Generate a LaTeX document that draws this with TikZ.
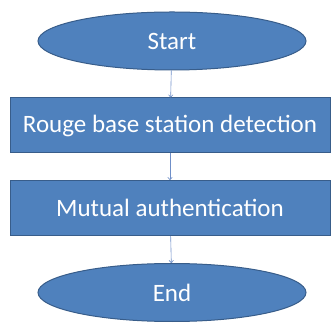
\documentclass[tikz,border=0pt]{standalone}
\usepackage{fontspec}
\setmainfont{Carlito}
\usetikzlibrary{shapes.geometric,arrows.meta}
\definecolor{boxfill}{HTML}{4F81BD}
\definecolor{boxline}{HTML}{385D8A}
\definecolor{arrowcol}{HTML}{6F8FC8}
\begin{document}
\begin{tikzpicture}[x=1pt,y=1pt,
  term/.style={ellipse, draw=boxline, fill=boxfill, line width=1pt, minimum width=268pt, minimum height=58pt, inner sep=0pt, text=white, font=\fontsize{25}{30}\selectfont},
  stepbox/.style={rectangle, draw=boxline, fill=boxfill, line width=1pt, minimum width=320pt, minimum height=55pt, inner sep=0pt, text=white, font=\fontsize{25}{30}\selectfont},
  conn/.style={draw=arrowcol, line width=0.6pt, -{To[length=3pt,width=5pt]}}]
\useasboundingbox (0,0) rectangle (331,323);
\node[term] (start) at (172,282) {Start};
\node[stepbox] (detect) at (170,197.5) {Rouge base station detection};
\node[stepbox] (auth) at (170,115) {Mutual authentication};
\node[term] (end) at (172,30.5) {End};
\draw[conn] (start) -- (detect);
\draw[conn] (detect) -- (auth);
\draw[conn] (auth) -- (end);
\end{tikzpicture}
\end{document}
